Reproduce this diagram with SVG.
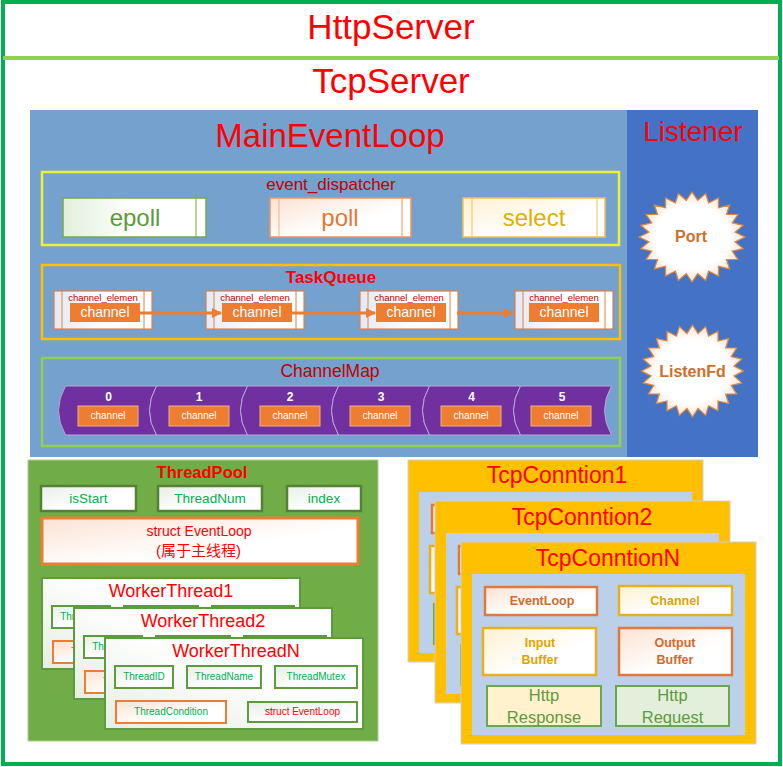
<svg xmlns="http://www.w3.org/2000/svg" width="783" height="767" viewBox="0 0 783 767">
<defs>
<style>
text{font-family:"Liberation Sans","Noto Sans CJK SC",sans-serif;text-anchor:middle}
.red{fill:#FF0000}
.dred{fill:#C00000}
.grn{fill:#00B050}
.ce{fill:url(#gBlue);stroke:#E0804A;stroke-width:1.2}
.ceLine{stroke:#E0804A;stroke-width:1}
.ch{fill:#ED7D31}
.chT{fill:#FFFFFF;font-size:14px}
.seg{fill:#7030A0;stroke:#B8A8D8;stroke-width:1}
.num{fill:#FFFFFF;font-size:12px;font-weight:bold}
.mch{fill:#ED7D31;stroke:#F4B183;stroke-width:1}
.mchT{fill:#FFFFFF;font-size:10px}
.tpBox{fill:url(#gGray);stroke:#548235;stroke-width:2.5}
.card{fill:url(#gCard);stroke:#5E9B3F;stroke-width:2}
.wbox{fill:url(#gGray);stroke:#5E9B3F;stroke-width:2}
.obox{fill:url(#gPink);stroke:#ED7D31;stroke-width:2}
.wt{font-size:10px}
.tcOuter{fill:#FFC000;stroke:#D0D0D0;stroke-width:1}
.tcInner{fill:#BDD0E9}
.oPink{fill:url(#gPink);stroke:#E07A3C;stroke-width:2.5}
.oYel{fill:url(#gYellow);stroke:#E6B020;stroke-width:2.5}
.bo{fill:#D4692A;font-size:12.5px;font-weight:bold}
.by{fill:#E0A400;font-size:12.5px;font-weight:bold}
.http{fill:#5E9B3F;font-size:16.5px}
.star{fill:url(#gStar);stroke:#E0883C;stroke-width:1.2}
</style>
<linearGradient id="gGreen" x1="0" y1="0" x2="1" y2="0"><stop offset="0" stop-color="#E2EFDA"/><stop offset="0.5" stop-color="#FFFFFF"/></linearGradient>
<linearGradient id="gPink" x1="0" y1="0" x2="1" y2="1"><stop offset="0" stop-color="#FBE2D2"/><stop offset="0.6" stop-color="#FFFFFF"/></linearGradient>
<linearGradient id="gYellow" x1="0" y1="0" x2="1" y2="1"><stop offset="0" stop-color="#FFF0D0"/><stop offset="0.6" stop-color="#FFFFFF"/></linearGradient>
<linearGradient id="gBlue" x1="0" y1="0" x2="1" y2="0"><stop offset="0" stop-color="#E4E9F4"/><stop offset="0.5" stop-color="#FFFFFF"/></linearGradient>
<linearGradient id="gGray" x1="0" y1="0" x2="1" y2="1"><stop offset="0" stop-color="#E8EEE6"/><stop offset="0.6" stop-color="#FFFFFF"/></linearGradient>
<linearGradient id="gCard" x1="0" y1="1" x2="1" y2="0"><stop offset="0" stop-color="#E6EDE3"/><stop offset="0.6" stop-color="#FFFFFF"/></linearGradient>
<radialGradient id="gStar" cx="0.5" cy="0.5" r="0.5"><stop offset="0" stop-color="#FFFFFF"/><stop offset="0.7" stop-color="#FFFFFF"/><stop offset="1" stop-color="#FBE2D2"/></radialGradient>
<polygon id="starShape" class="star" points="50,0 40.6,5.4 48.3,12.9 37.9,15.7 43.3,25 32.5,25 35.4,35.4 25,32.5 25,43.3 15.7,37.9 12.9,48.3 5.4,40.6 0,50 -5.4,40.6 -12.9,48.3 -15.7,37.9 -25,43.3 -25,32.5 -35.4,35.4 -32.5,25 -43.3,25 -37.9,15.7 -48.3,12.9 -40.6,5.4 -50,0 -40.6,-5.4 -48.3,-12.9 -37.9,-15.7 -43.3,-25 -32.5,-25 -35.4,-35.4 -25,-32.5 -25,-43.3 -15.7,-37.9 -12.9,-48.3 -5.4,-40.6 0,-50 5.4,-40.6 12.9,-48.3 15.7,-37.9 25,-43.3 25,-32.5 35.4,-35.4 32.5,-25 43.3,-25 37.9,-15.7 48.3,-12.9 40.6,-5.4"/>
<marker id="arr" markerWidth="10" markerHeight="10" refX="9" refY="5" orient="auto" markerUnits="userSpaceOnUse"><path d="M0,0 L10,5 L0,10 Z" fill="#ED7D31"/></marker>
<g id="workerCard">
<rect class="card" x="0" y="0" width="258" height="91"/>
<rect class="wbox" x="10" y="28" width="58" height="22"/>
<text class="grn wt" x="39" y="41.5">ThreadID</text>
<rect class="wbox" x="82" y="28" width="74" height="22"/>
<text class="grn wt" x="119" y="41.5">ThreadName</text>
<rect class="wbox" x="170" y="28" width="82" height="22"/>
<text class="grn wt" x="211" y="41.5">ThreadMutex</text>
<rect class="obox" x="11" y="63" width="110" height="22"/>
<text class="grn wt" x="66" y="77">ThreadCondition</text>
<rect class="wbox" x="143" y="64" width="109" height="20"/>
<text class="red wt" x="197.5" y="77">struct EventLoop</text>
</g>
<g id="tcpCard">
<rect class="tcOuter" x="0" y="0" width="295" height="202"/>
<rect class="tcInner" x="11" y="32" width="273" height="161"/>
<rect class="oPink" x="24" y="45" width="112" height="28"/>
<text class="bo" x="81" y="63">EventLoop</text>
<rect class="oYel" x="158" y="44" width="113" height="29"/>
<text class="by" x="214" y="63">Channel</text>
<rect class="oYel" x="22" y="86" width="113" height="47"/>
<text class="by" x="79" y="105">Input</text>
<text class="by" x="79" y="122">Buffer</text>
<rect class="oPink" x="158" y="86" width="113" height="47"/>
<text class="bo" x="214" y="105">Output</text>
<text class="bo" x="214" y="122">Buffer</text>
<rect x="26" y="144" width="114" height="40" fill="#FFF2CC" stroke="#6AA84F" stroke-width="2"/>
<text class="http" x="83" y="159">Http</text>
<text class="http" x="83" y="181">Response</text>
<rect x="155" y="144" width="113" height="40" fill="#E2EFDA" stroke="#6AA84F" stroke-width="2"/>
<text class="http" x="211.5" y="159">Http</text>
<text class="http" x="211.5" y="181">Request</text>
</g>
</defs>

<rect x="0" y="0" width="783" height="767" fill="#FFFFFF"/>

<g id="HttpServer">
<rect x="3" y="2" width="777" height="762" fill="none" stroke="#00B050" stroke-width="4"/>
<text class="red" x="391" y="39" font-size="35">HttpServer</text>
</g>

<g id="TcpServer">
<line x1="3" y1="58" x2="779" y2="58" stroke="#92D050" stroke-width="4"/>
<text class="red" x="391" y="93" font-size="35">TcpServer</text>
</g>

<g id="MainEventLoop">
<rect x="30" y="110" width="597" height="347" fill="#75A1CE"/>
<text class="red" x="330" y="147" font-size="33">MainEventLoop</text>
</g>

<g id="event_dispatcher">
<rect x="42" y="172" width="577" height="73" fill="none" stroke="#EEF032" stroke-width="2.5"/>
<text class="dred" x="331" y="190" font-size="17">event_dispatcher</text>
</g>
<g id="epoll">
<rect x="63" y="198" width="143" height="39" fill="url(#gGreen)" stroke="#70AD47" stroke-width="1.5"/>
<line x1="196" y1="198" x2="196" y2="237" stroke="#70AD47" stroke-width="1"/>
<text x="135" y="226" font-size="24" fill="#5B9B3A">epoll</text>
</g>
<g id="poll">
<rect x="270" y="198" width="141" height="39" fill="url(#gPink)" stroke="#F0925A" stroke-width="1.5"/>
<line x1="279" y1="198" x2="279" y2="237" stroke="#F4B183" stroke-width="1"/>
<line x1="402" y1="198" x2="402" y2="237" stroke="#F0925A" stroke-width="1"/>
<text x="340" y="226" font-size="24" fill="#DD7A3A">poll</text>
</g>
<g id="select">
<rect x="463" y="198" width="142" height="39" fill="url(#gYellow)" stroke="#F2C14E" stroke-width="1.5"/>
<line x1="472" y1="198" x2="472" y2="237" stroke="#F2C14E" stroke-width="1"/>
<line x1="597" y1="198" x2="597" y2="237" stroke="#F2C14E" stroke-width="1"/>
<text x="534" y="226" font-size="24" fill="#E0B000">select</text>
</g>

<g id="TaskQueue">
<rect x="42" y="265" width="578" height="74" fill="none" stroke="#FFC000" stroke-width="2.5"/>
<text class="red" x="331" y="283" font-size="17" font-weight="bold">TaskQueue</text>
</g>
<g id="channel_element1">
<rect class="ce" x="54" y="291" width="98" height="38"/>
<line class="ceLine" x1="62" y1="291" x2="62" y2="329"/><line class="ceLine" x1="144" y1="291" x2="144" y2="329"/>
<text class="dred" x="103" y="301" font-size="9.5">channel_elemen</text>
<rect class="ch" x="70" y="303" width="70" height="19"/>
<text class="chT" x="105" y="317">channel</text>
</g>
<g id="channel_element2">
<rect class="ce" x="206" y="291" width="98" height="38"/>
<line class="ceLine" x1="214" y1="291" x2="214" y2="329"/><line class="ceLine" x1="296" y1="291" x2="296" y2="329"/>
<text class="dred" x="255" y="301" font-size="9.5">channel_elemen</text>
<rect class="ch" x="222" y="303" width="70" height="19"/>
<text class="chT" x="257" y="317">channel</text>
</g>
<g id="channel_element3">
<rect class="ce" x="360" y="291" width="98" height="38"/>
<line class="ceLine" x1="368" y1="291" x2="368" y2="329"/><line class="ceLine" x1="450" y1="291" x2="450" y2="329"/>
<text class="dred" x="409" y="301" font-size="9.5">channel_elemen</text>
<rect class="ch" x="376" y="303" width="70" height="19"/>
<text class="chT" x="411" y="317">channel</text>
</g>
<g id="channel_element4">
<rect class="ce" x="515" y="291" width="98" height="38"/>
<line class="ceLine" x1="523" y1="291" x2="523" y2="329"/><line class="ceLine" x1="605" y1="291" x2="605" y2="329"/>
<text class="dred" x="564" y="301" font-size="9.5">channel_elemen</text>
<rect class="ch" x="529" y="303" width="70" height="19"/>
<text class="chT" x="564" y="317">channel</text>
</g>

<g id="connectors">
<line x1="140" y1="313" x2="221" y2="313" stroke="#ED7D31" stroke-width="3" marker-end="url(#arr)"/>
<line x1="292" y1="313" x2="375" y2="313" stroke="#ED7D31" stroke-width="3" marker-end="url(#arr)"/>
<line x1="457" y1="313" x2="513" y2="313" stroke="#ED7D31" stroke-width="3" marker-end="url(#arr)"/>
</g>

<g id="ChannelMap">
<rect x="42" y="358" width="578" height="88" fill="none" stroke="#92D050" stroke-width="2.5"/>
<text class="dred" x="330" y="377" font-size="17.5">ChannelMap</text>
<path class="seg" d="M65.5,386 H156.5 Q142.5,410.5 156.5,435 H65.5 Q51.5,410.5 65.5,386 Z"/>
<path class="seg" d="M156.5,386 H247.5 Q233.5,410.5 247.5,435 H156.5 Q142.5,410.5 156.5,386 Z"/>
<path class="seg" d="M247.5,386 H338.5 Q324.5,410.5 338.5,435 H247.5 Q233.5,410.5 247.5,386 Z"/>
<path class="seg" d="M338.5,386 H429.5 Q415.5,410.5 429.5,435 H338.5 Q324.5,410.5 338.5,386 Z"/>
<path class="seg" d="M429.5,386 H520.5 Q506.5,410.5 520.5,435 H429.5 Q415.5,410.5 429.5,386 Z"/>
<path class="seg" d="M520.5,386 H611.5 Q597.5,410.5 611.5,435 H520.5 Q506.5,410.5 520.5,386 Z"/>
<text class="num" x="108.5" y="401">0</text>
<text class="num" x="199" y="401">1</text>
<text class="num" x="290" y="401">2</text>
<text class="num" x="381" y="401">3</text>
<text class="num" x="471.5" y="401">4</text>
<text class="num" x="562" y="401">5</text>
<rect class="mch" x="78" y="406" width="60" height="20"/><text class="mchT" x="108" y="419">channel</text>
<rect class="mch" x="169" y="406" width="60" height="20"/><text class="mchT" x="199" y="419">channel</text>
<rect class="mch" x="260" y="406" width="60" height="20"/><text class="mchT" x="290" y="419">channel</text>
<rect class="mch" x="350" y="406" width="60" height="20"/><text class="mchT" x="380" y="419">channel</text>
<rect class="mch" x="441" y="406" width="60" height="20"/><text class="mchT" x="471" y="419">channel</text>
<rect class="mch" x="531" y="406" width="60" height="20"/><text class="mchT" x="561" y="419">channel</text>
</g>

<g id="Listener">
<rect x="627" y="110" width="131" height="347" fill="#4472C4"/>
<text class="red" x="693" y="141" font-size="28">Listener</text>
</g>
<g id="Port">
<use href="#starShape" transform="translate(692,237) scale(1.06,0.9)"/>
<text x="691" y="242" font-size="16" font-weight="bold" fill="#D06F2A">Port</text>
</g>
<g id="ListenFd">
<use href="#starShape" transform="translate(692.5,371) scale(1.02,0.92)"/>
<text x="692.5" y="377" font-size="16" font-weight="bold" fill="#D06F2A">ListenFd</text>
</g>

<g id="ThreadPool">
<rect x="28" y="460" width="350" height="281" fill="#70AD47" stroke="#A9D18E" stroke-width="1"/>
<text class="red" x="202" y="478" font-size="16.5" font-weight="bold">ThreadPool</text>
<rect class="tpBox" x="41" y="486" width="95" height="25"/>
<text class="grn" x="88.5" y="503" font-size="13.5">isStart</text>
<rect class="tpBox" x="158" y="486" width="104" height="25"/>
<text class="grn" x="210" y="503" font-size="13.5">ThreadNum</text>
<rect class="tpBox" x="287" y="486" width="74" height="25"/>
<text class="grn" x="324" y="503" font-size="13.5">index</text>
</g>
<g id="MainThreadEventLoop">
<rect x="42" y="518" width="316" height="46" fill="url(#gPink)" stroke="#ED7D31" stroke-width="3"/>
<text class="red" x="199" y="536" font-size="14">struct EventLoop</text>
<text class="red" x="198.5" y="556" font-size="15">(属于主线程)</text>
</g>

<g id="WorkerThread1">
<use href="#workerCard" transform="translate(42,578)"/>
<text class="red" x="171" y="597" font-size="18">WorkerThread1</text>
</g>
<g id="WorkerThread2">
<use href="#workerCard" transform="translate(74,608)"/>
<text class="red" x="203" y="627" font-size="18">WorkerThread2</text>
</g>
<g id="WorkerThreadN">
<use href="#workerCard" transform="translate(105,638)"/>
<text class="red" x="236" y="657" font-size="18">WorkerThreadN</text>
</g>

<g id="TcpConntion1">
<use href="#tcpCard" transform="translate(408,460)"/>
<text class="red" x="557" y="483" font-size="23">TcpConntion1</text>
</g>
<g id="TcpConntion2">
<use href="#tcpCard" transform="translate(435,501)"/>
<text class="red" x="582" y="525" font-size="23">TcpConntion2</text>
</g>
<g id="TcpConntionN">
<use href="#tcpCard" transform="translate(461,542)"/>
<text class="red" x="608" y="566" font-size="23">TcpConntionN</text>
</g>
</svg>
